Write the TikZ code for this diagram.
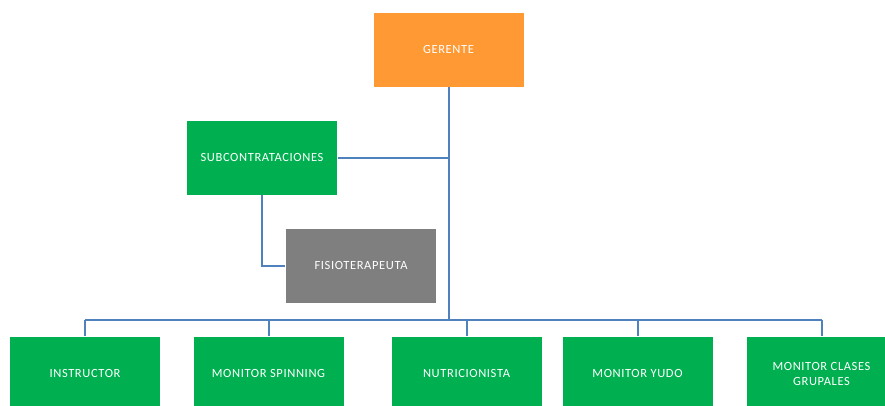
\documentclass[tikz,border=0pt]{standalone}
\usepackage{fontspec}
\setmainfont{Carlito}[LetterSpace=5]
\definecolor{boxorange}{HTML}{FF9933}
\definecolor{boxgreen}{HTML}{00B050}
\definecolor{boxgray}{HTML}{7F7F7F}
\definecolor{linkblue}{HTML}{4F81BD}
\begin{document}
\begin{tikzpicture}[x=1pt,y=-1pt,
  unit/.style={minimum width=151pt, minimum height=75pt, inner sep=2pt,
    draw=white, line width=0.6pt, text=white, align=center,
    font=\fontsize{12.5}{15}\selectfont},
  boss/.style={unit, fill=boxorange},
  staff/.style={unit, fill=boxgreen},
  extern/.style={unit, fill=boxgray},
  link/.style={draw=linkblue, line width=2pt}]
\useasboundingbox (0,0) rectangle (885,405);
\clip (0,0) rectangle (885,405);
\fill[white] (0,0) rectangle (885,405);

% boxes
\node[boss]   (ger)   at (448.5,49.5)  {GERENTE};
\node[staff]  (sub)   at (262,157.5)   {SUBCONTRATACIONES};
\node[extern] (fisio) at (361,265.5)   {FISIOTERAPEUTA};
\node[staff]  (ins)   at (85,373.5)    {INSTRUCTOR};
\node[staff]  (spin)  at (268.5,373.5) {MONITOR SPINNING};
\node[staff]  (nut)   at (466.5,373.5) {NUTRICIONISTA};
\node[staff]  (yudo)  at (637.5,373.5) {MONITOR YUDO};
\node[staff]  (cla)   at (821.5,373.5) {MONITOR CLASES\\GRUPALES};

% bus line above the bottom row
\coordinate (busy) at (0,320);
\coordinate (trunk) at (449,0);

% connectors
\draw[link] (ger.south -| trunk) -- (trunk |- busy);
\draw[link] (sub.east) -- (sub.east -| trunk);
\draw[link] (sub.south) |- (fisio.west);
\draw[link] (ins.north |- busy) -- (cla.north |- busy);
\foreach \n in {ins,spin,nut,yudo,cla}
  \draw[link] (\n.north |- busy) -- (\n.north);
\end{tikzpicture}
\end{document}
